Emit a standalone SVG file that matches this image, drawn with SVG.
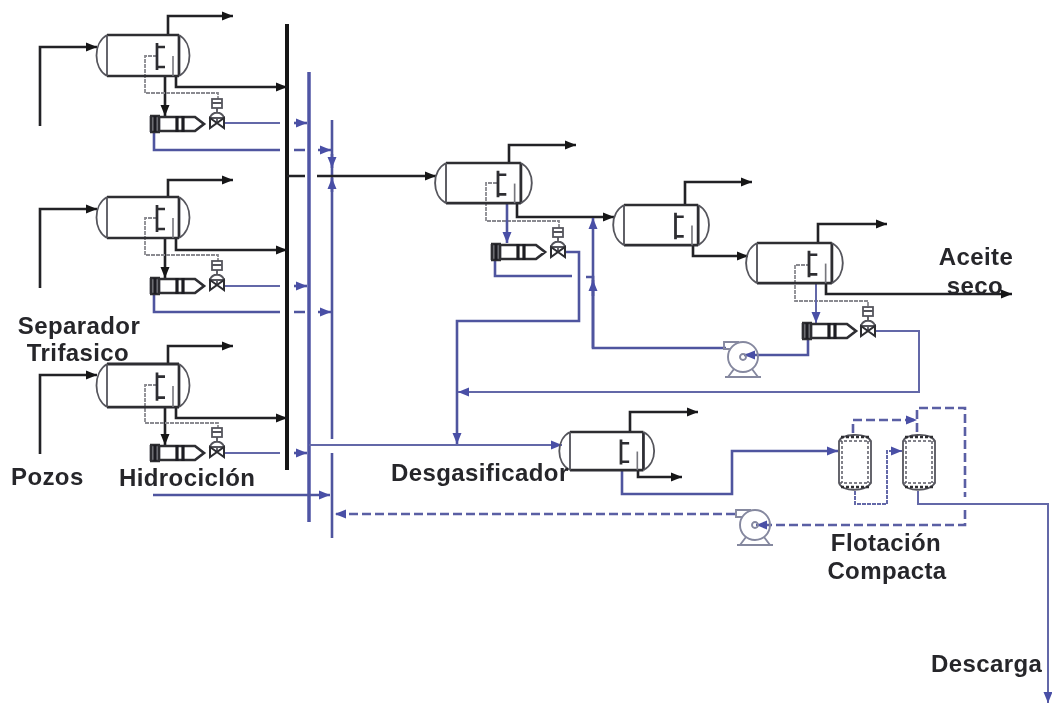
<svg xmlns="http://www.w3.org/2000/svg" width="1052" height="706" viewBox="0 0 1052 706">
<style>
.k{fill:none;stroke:#222226;stroke-width:2.6}
.kh{fill:none;stroke:#141416;stroke-width:4}
.b{fill:none;stroke:#50559f;stroke-width:2.6}
.bt{fill:none;stroke:#6468a8;stroke-width:2}
.bh{fill:none;stroke:#4f54a4;stroke-width:3.5}
.bd{fill:none;stroke:#5a5ea4;stroke-width:2.6;stroke-dasharray:9 4}
.dot{fill:none;stroke:#8a8a90;stroke-width:1.8;stroke-dasharray:4 1}
.g{fill:none;stroke:#77777d;stroke-width:1.6}
.ves{fill:none;stroke:#2d2d32;stroke-width:2.7}
.thin{fill:none;stroke:#55555c;stroke-width:1.8}
.blk{fill:none;stroke:#1c1c20;stroke-width:3.2}
.pu{fill:none;stroke:#85889f;stroke-width:1.9}
.fd{fill:none;stroke:#5a5a64;stroke-width:1.5;stroke-dasharray:3 2}
text{font-family:"Liberation Sans",Arial,sans-serif;font-weight:700;font-size:24px;fill:#26262a;letter-spacing:.4px}
.m{text-anchor:middle}
</style>
<defs>
<filter id="soft" x="-2%" y="-2%" width="104%" height="104%"><feGaussianBlur stdDeviation="0.5"/></filter>
<marker id="ak" markerUnits="userSpaceOnUse" markerWidth="13" markerHeight="11" refX="12" refY="5.5" orient="auto"><path d="M1 1L12 5.5L1 10Z" fill="#141416"/></marker>
<marker id="ab" markerUnits="userSpaceOnUse" markerWidth="13" markerHeight="11" refX="12" refY="5.5" orient="auto"><path d="M1 1L12 5.5L1 10Z" fill="#4a4fa6"/></marker>
<g id="vessel">
<path class="ves" d="M0 0H72M0 41H72M72 0V41"/>
<path class="thin" d="M0 0V41M0 0C-14 8-14 33 0 41M72 0C86 8 86 33 72 41"/>
<path class="ves" d="M50 8V35M50 12H58M50 32H58"/>
<path class="g" d="M66 21V41"/>
</g>
<g id="hydro">
<rect x="1" y="0" width="9" height="16" fill="#8f9096"/>
<path class="ves" d="M1 0V16M9 0V16M0 0H10M0 16H10M10 1H45L54 8L45 15H10"/>
<path class="blk" d="M5 0V16M27 0V16M33 0V16"/>
</g>
<g id="valve">
<rect class="thin" x="-5" y="-24" width="10" height="9" fill="#9a9caa"/>
<path class="thin" d="M-5-20H5M0-15V-11M-7-5C-5-12 5-12 7-5ZM0-5V0"/>
<path class="ves" style="stroke-width:2" d="M-7-5L7 5V-5L-7 5Z"/>
</g>
<g id="pump">
<circle class="pu" cx="0" cy="0" r="15"/>
<path class="pu" d="M-4-15H-19V-8H-13M-9 12L-15 20H15L9 12M-18 20H18"/>
<circle class="pu" cx="0" cy="0" r="3"/>
</g>
<g id="flot">
<path class="thin" d="M0 8C3 1 26 -1 32 8V50C26 59 3 59 0 50Z"/>
<path class="fd" d="M0 8H32M0 50H32M3 8V50M29 8V50"/>
<path class="ves" d="M2 4H30M2 54H30" style="stroke-dasharray:3 2"/>
</g>
</defs>
<g filter="url(#soft)">
<g id="connectors">
<!-- mains -->
<path class="kh" d="M287 24V470"/>
<path class="bh" d="M309 72V522"/>
<path class="b" d="M332 120V439M332 453V538"/>
<!-- row 1 -->
<path class="k" d="M40 126V47H97" marker-end="url(#ak)"/>
<path class="k" d="M168 35V16H233" marker-end="url(#ak)"/>
<path class="k" d="M176 76V87H287" marker-end="url(#ak)"/>
<path class="k" d="M165 76V116" marker-end="url(#ak)"/>
<path class="dot" d="M157 56H145V93H218V99"/>
<path class="bt" d="M224 123H280"/>
<path class="b" d="M294 123H307" marker-end="url(#ab)"/>
<path class="b" d="M154 132V150H280M294 150H305M318 150H331" marker-end="url(#ab)"/>
<path class="b" d="M332 154V168" marker-end="url(#ab)"/>
<path class="b" d="M332 192V178" marker-end="url(#ab)"/>
<!-- row 2 -->
<path class="k" d="M40 288V209H97" marker-end="url(#ak)"/>
<path class="k" d="M168 197V180H233" marker-end="url(#ak)"/>
<path class="k" d="M176 238V250H287" marker-end="url(#ak)"/>
<path class="k" d="M165 238V278" marker-end="url(#ak)"/>
<path class="dot" d="M157 218H145V255H218V261"/>
<path class="bt" d="M224 286H280"/>
<path class="b" d="M294 286H307" marker-end="url(#ab)"/>
<path class="b" d="M154 294V312H280M294 312H305M318 312H331" marker-end="url(#ab)"/>
<!-- row 3 -->
<path class="k" d="M40 454V375H97" marker-end="url(#ak)"/>
<path class="k" d="M168 364V346H233" marker-end="url(#ak)"/>
<path class="k" d="M176 407V418H287" marker-end="url(#ak)"/>
<path class="k" d="M165 407V445" marker-end="url(#ak)"/>
<path class="dot" d="M157 385H145V423H218V428"/>
<path class="bt" d="M224 453H280"/>
<path class="b" d="M294 453H307" marker-end="url(#ab)"/>
<path class="b" d="M153 495H330" marker-end="url(#ab)"/>
<!-- to central train -->
<path class="k" d="M287 176H305M317 176H436" marker-end="url(#ak)"/>
<path class="k" d="M509 163V145H576" marker-end="url(#ak)"/>
<path class="k" d="M517 203V217H614" marker-end="url(#ak)"/>
<path class="dot" d="M497 183H486V221H559V228"/>
<path class="b" d="M507 203V243" marker-end="url(#ab)"/>
<path class="b" d="M565 252H579V321H457V444" marker-end="url(#ab)"/>
<path class="b" d="M495 260V276H572"/>
<path class="b" d="M593 348V218" marker-end="url(#ab)"/>
<path class="b" d="M586 277H593V348H726"/>
<path class="b" d="M593 296V280" marker-end="url(#ab)"/>
<!-- separator 2 and 3 -->
<path class="k" d="M685 205V182H752" marker-end="url(#ak)"/>
<path class="k" d="M693 245V256H748" marker-end="url(#ak)"/>
<path class="k" d="M818 243V224H887" marker-end="url(#ak)"/>
<path class="k" d="M826 283V294H1012" marker-end="url(#ak)"/>
<path class="dot" d="M810 265H795V301H868V308"/>
<path class="bt" d="M816 283V323" marker-end="url(#ab)"/>
<path class="b" d="M808 340V355H744" marker-end="url(#ab)"/>
<path class="bt" d="M875 331H919V392H458" marker-end="url(#ab)"/>
<!-- water train -->
<path class="bt" d="M309 445H562" marker-end="url(#ab)"/>
<path class="k" d="M630 432V412H698" marker-end="url(#ak)"/>
<path class="k" d="M638 470V477H682" marker-end="url(#ak)"/>
<path class="b" d="M622 470V494H732V451H838" marker-end="url(#ab)"/>
<path class="bd" d="M853 433V420H917" marker-end="url(#ab)"/>
<path class="bt" d="M855 491V504H887V451H902" marker-end="url(#ab)" style="stroke-dasharray:4 1"/>
<path class="bd" d="M917 432V408H965V497M965 510V525H756" marker-end="url(#ab)"/>
<path class="bd" d="M735 514H335" marker-end="url(#ab)"/>
<path class="bt" d="M918 491V504H1048V703" marker-end="url(#ab)"/>
</g>
<g id="separador-1"><use href="#vessel" x="107" y="35"/></g>
<g id="separador-2"><use href="#vessel" x="107" y="197"/></g>
<g id="separador-3"><use href="#vessel" transform="translate(107 364) scale(1 1.05)"/></g>
<g id="hidrociclon-1"><use href="#hydro" x="150" y="116"/></g>
<g id="hidrociclon-2"><use href="#hydro" x="150" y="278"/></g>
<g id="hidrociclon-3"><use href="#hydro" x="150" y="445"/></g>
<g id="valvula-1"><use href="#valve" x="217" y="123"/></g>
<g id="valvula-2"><use href="#valve" x="217" y="285"/></g>
<g id="valvula-3"><use href="#valve" x="217" y="452"/></g>
<g id="separador-4"><use href="#vessel" transform="translate(446 163) scale(1.04 .98)"/></g>
<g id="hidrociclon-4"><use href="#hydro" x="491" y="244"/></g>
<g id="valvula-4"><use href="#valve" x="558" y="252"/></g>
<g id="separador-5"><use href="#vessel" transform="translate(624 205) scale(1.03 .98)"/></g>
<g id="separador-6"><use href="#vessel" transform="translate(757 243) scale(1.04 .98)"/></g>
<g id="hidrociclon-5"><use href="#hydro" x="802" y="323"/></g>
<g id="valvula-5"><use href="#valve" x="868" y="331"/></g>
<g id="bomba-1"><use href="#pump" x="743" y="357"/></g>
<g id="desgasificador"><use href="#vessel" transform="translate(570 432) scale(1.02 .93)"/></g>
<g id="flotacion-1"><use href="#flot" x="839" y="433"/></g>
<g id="flotacion-2"><use href="#flot" x="903" y="433"/></g>
<g id="bomba-2"><use href="#pump" x="755" y="525"/></g>
<g id="labels">
<text class="m" x="79" y="334">Separador</text>
<text class="m" x="78" y="361">Trifasico</text>
<text x="11" y="485">Pozos</text>
<text x="119" y="486">Hidrociclón</text>
<text x="391" y="481">Desgasificador</text>
<text class="m" x="976" y="265">Aceite</text>
<text class="m" x="975" y="294">seco</text>
<text class="m" x="886" y="551">Flotación</text>
<text class="m" x="887" y="579">Compacta</text>
<text x="931" y="672">Descarga</text>
</g>
</g>
</svg>
